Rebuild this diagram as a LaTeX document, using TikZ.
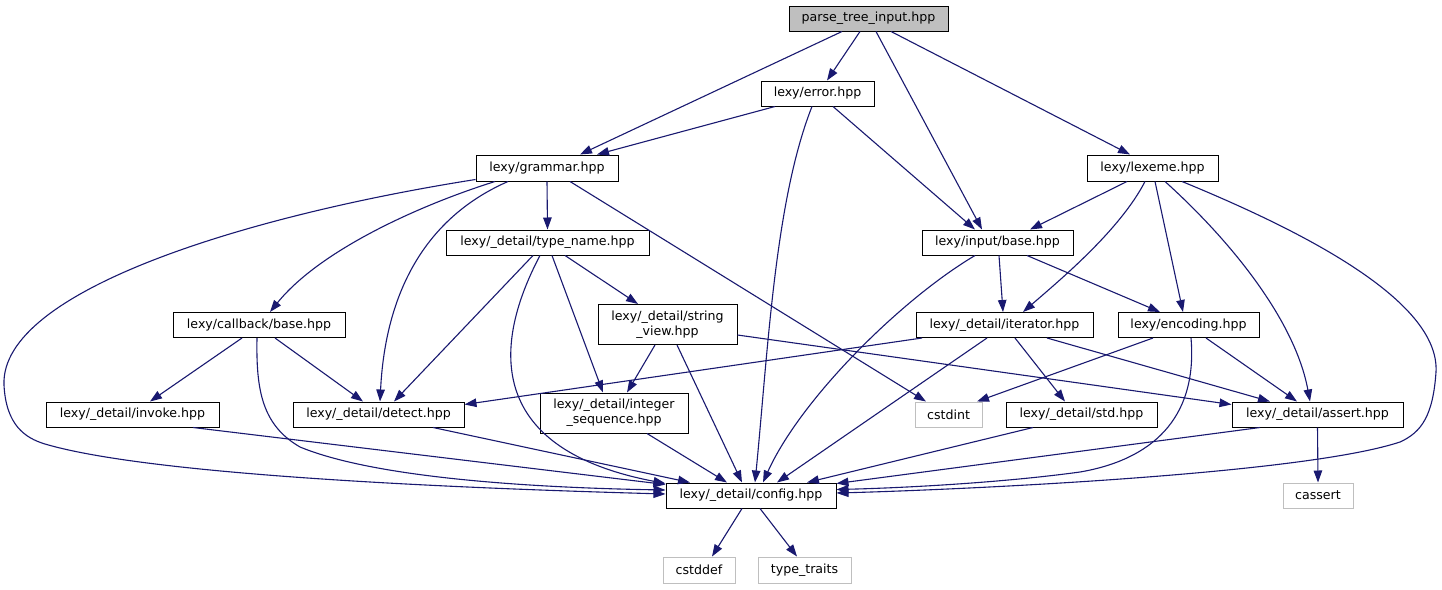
\documentclass[tikz,border=0pt]{standalone}
\usepackage{fontspec}
\newfontfamily\dvs{DejaVu Sans}
\usetikzlibrary{arrows.meta}
\definecolor{edgeblue}{HTML}{191970}
\definecolor{greyfill}{HTML}{BFBFBF}
\definecolor{greyline}{HTML}{BFBFBF}
\begin{document}
\begin{tikzpicture}[x=1pt,y=-1pt,
  box/.style={draw=black, fill=white, rectangle, inner sep=0pt, line width=1pt,
    font=\dvs\fontsize{12.6}{15}\selectfont, align=center, minimum height=25},
  extbox/.style={box, draw=greyline},
  e/.style={draw=edgeblue, line width=1.1pt, -{Triangle[length=12pt,width=8.5pt]}}]
\useasboundingbox (0,0) rectangle (1442,589);
\fill[white] (0,0) rectangle (1442,589);
% nodes
\node[box, fill=greyfill, minimum width=159] (pti) at (868.5,18.5) {parse\_tree\_input.hpp};
\node[box, minimum width=113] (error) at (817.5,93.5) {lexy/error.hpp};
\node[box, minimum width=142, minimum height=26] (grammar) at (547,168) {lexy/grammar.hpp};
\node[box, minimum width=131, minimum height=26] (lexeme) at (1152.5,168) {lexy/lexeme.hpp};
\node[box, minimum width=203] (tname) at (547.5,242.5) {lexy/\_detail/type\_name.hpp};
\node[box, minimum width=151] (ibase) at (997.5,242.5) {lexy/input/base.hpp};
\node[box, minimum width=172] (callback) at (259,325) {lexy/callback/base.hpp};
\node[box, minimum width=139, minimum height=40] (strview) at (667.5,324.5) {lexy/\_detail/string\\\_view.hpp};
\node[box, minimum width=177] (iter) at (1004.5,325) {lexy/\_detail/iterator.hpp};
\node[box, minimum width=141] (enc) at (1188.5,325) {lexy/encoding.hpp};
\node[box, minimum width=173] (invoke) at (132.5,414.5) {lexy/\_detail/invoke.hpp};
\node[box, minimum width=171] (detect) at (378.5,414.5) {lexy/\_detail/detect.hpp};
\node[box, minimum width=148, minimum height=40] (intseq) at (614,413) {lexy/\_detail/integer\\\_sequence.hpp};
\node[extbox, minimum width=67] (cstdint) at (948.5,414.5) {cstdint};
\node[box, minimum width=151] (std) at (1081.5,414.5) {lexy/\_detail/std.hpp};
\node[box, minimum width=171] (assert) at (1317.5,414.5) {lexy/\_detail/assert.hpp};
\node[box, minimum width=170] (config) at (751,495.5) {lexy/\_detail/config.hpp};
\node[extbox, minimum width=70] (cassert) at (1318,495.5) {cassert};
\node[extbox, minimum width=72, minimum height=26] (cstddef) at (699,570) {cstddef};
\node[extbox, minimum width=93, minimum height=26] (tt) at (804.5,570) {type\_traits};
% edges from parse_tree_input
\draw[e] ([xshift=-26.5]pti.south) -- ([xshift=33]grammar.north);
\draw[e] ([xshift=-8.5]pti.south) -- ([xshift=9.5]error.north);
\draw[e] ([xshift=7.5]pti.south) -- ([xshift=-15.5]ibase.north);
\draw[e] ([xshift=22.5]pti.south) -- ([xshift=-22.5]lexeme.north);
% error
\draw[e] ([xshift=-42.5]error.south) -- ([xshift=50]grammar.north);
\draw[e] ([xshift=-5.5]error.south) .. controls (775,200) and (768,350) .. ([xshift=4]config.north);
\draw[e] ([xshift=15.5]error.south) -- ([xshift=-22.5]ibase.north);
% grammar
\draw[e] ([yshift=2]grammar.south west) .. controls (250,215) and (0,290) .. (4,385)
  .. controls (6,425) and (25,438) .. (45,444)
  .. controls (150,475) and (450,488) .. ([yshift=1.5]config.west);
\draw[e] ([xshift=-52]grammar.south) .. controls (420,205) and (320,250) .. ([xshift=11]callback.north);
\draw[e] ([xshift=-39]grammar.south) .. controls (420,220) and (385,300) .. ([xshift=1.5]detect.north);
\draw[e] (grammar.south) -- (tname.north);
\draw[e] ([xshift=23]grammar.south) -- ([xshift=-22.5]cstdint.north);
% lexeme
\draw[e] ([xshift=-25.5]lexeme.south) -- ([xshift=32.5]ibase.north);
\draw[e] ([xshift=-7.5]lexeme.south) .. controls (1120,230) and (1060,280) .. ([xshift=18.5]iter.north);
\draw[e] ([xshift=2.5]lexeme.south) -- ([xshift=-5.5]enc.north);
\draw[e] ([xshift=12.5]lexeme.south) .. controls (1230,240) and (1295,320) .. ([xshift=-7.5]assert.north);
\draw[e] ([xshift=29.5]lexeme.south) .. controls (1300,230) and (1440,300) .. (1436,372)
  .. controls (1433,415) and (1422,432) .. (1400,442)
  .. controls (1300,475) and (950,490) .. ([yshift=2.5]config.east);
% type_name
\draw[e] ([xshift=-14.5]tname.south) -- ([xshift=15.5]detect.north);
\draw[e] ([xshift=-7.5]tname.south) .. controls (490,350) and (490,450) .. ([yshift=-1]config.north west);
\draw[e] ([xshift=4.5]tname.south) -- ([xshift=-11]intseq.north);
\draw[e] ([xshift=17.5]tname.south) -- ([xshift=-29.5]strview.north);
% input/base
\draw[e] ([xshift=-22.5]ibase.south) .. controls (900,300) and (800,400) .. ([xshift=12]config.north);
\draw[e] ([xshift=1.5]ibase.south) -- ([xshift=-1.5]iter.north);
\draw[e] ([xshift=29.5]ibase.south) -- ([xshift=-28.5]enc.north);
% callback
\draw[e] ([xshift=-17]callback.south) -- ([xshift=17.5]invoke.north);
\draw[e] ([xshift=-2]callback.south) .. controls (256,390) and (262,425) .. (300,447)
  .. controls (380,480) and (550,488) .. ([yshift=5.5]config.west);
\draw[e] ([xshift=16]callback.south) -- ([xshift=-15.5]detect.north);
% string_view
\draw[e] ([xshift=-12.5]strview.south) -- ([xshift=13]intseq.north);
\draw[e] ([xshift=9.5]strview.south) -- ([xshift=-9]config.north);
\draw[e] ([yshift=-10.5]strview.east) -- ([yshift=-3]assert.north west);
% iterator
\draw[e] ([xshift=-82.5]iter.south) -- ([yshift=-3]detect.north east);
\draw[e] ([xshift=-17.5]iter.south) -- ([xshift=26]config.north);
\draw[e] ([xshift=10.5]iter.south) -- ([xshift=-16.5]std.north);
\draw[e] ([xshift=42.5]iter.south) -- ([xshift=-47.5]assert.north);
% encoding
\draw[e] ([xshift=-35.5]enc.south) -- ([xshift=28.5]cstdint.north);
\draw[e] ([xshift=2.5]enc.south) .. controls (1198,420) and (1150,460) .. (1080,472)
  .. controls (1000,483) and (900,488) .. ([yshift=6]config.east);
\draw[e] ([xshift=17.5]enc.south) -- ([xshift=-20.5]assert.north);
% lower row
\draw[e] ([xshift=60.5]invoke.south) -- ([yshift=-2]config.north west);
\draw[e] ([xshift=54.5]detect.south) -- ([xshift=-61]config.north);
\draw[e] ([xshift=33]intseq.south) -- ([xshift=-24]config.north);
\draw[e] ([xshift=-48.5]std.south) -- ([xshift=56]config.north);
\draw[e] ([xshift=-57.5]assert.south) -- ([yshift=-1]config.north east);
\draw[e] (assert.south) -- (cassert.north);
\draw[e] ([xshift=-9]config.south) -- ([xshift=13]cstddef.north);
\draw[e] ([xshift=9]config.south) -- ([xshift=-7.5]tt.north);
\end{tikzpicture}
\end{document}
